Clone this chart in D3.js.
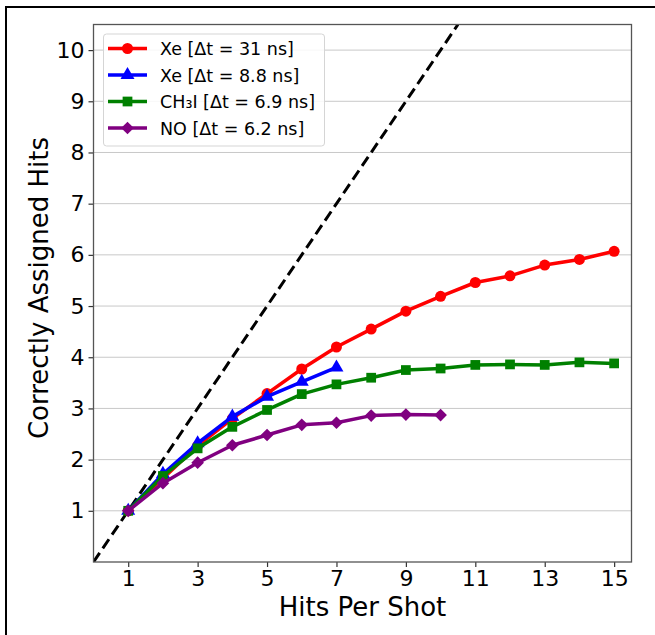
<!DOCTYPE html>
<html><head><meta charset="utf-8">
<script src="https://cdn.jsdelivr.net/npm/d3@7"></script>
<style>body{margin:0;background:#fff;} svg{display:block;font-family:"DejaVu Sans",sans-serif;}</style>
</head><body><svg id="c" width="655" height="635"></svg>
<script>
const hits = [1,2,3,4,5,6,7,8,9,10,11,12,13,14,15];
const xe31 = [1.0,1.63,2.27,2.80,3.29,3.77,4.20,4.55,4.90,5.19,5.46,5.59,5.80,5.91,6.07];
const xe88 = [1.0,1.72,2.32,2.84,3.23,3.52,3.80];
const ch3i = [1.0,1.68,2.22,2.64,2.97,3.28,3.47,3.60,3.75,3.78,3.85,3.86,3.85,3.90,3.88];
const no62 = [1.0,1.54,1.94,2.28,2.48,2.68,2.72,2.86,2.88,2.87];
const seriesNames = ["Xe [\u0394t = 31 ns]","Xe [\u0394t = 8.8 ns]","CH\u2083I [\u0394t = 6.9 ns]","NO [\u0394t = 6.2 ns]"];
const seriesColors = ["#ff0000","#0000ff","#008000","#800080"];
const seriesSymbols = ["circle","triangle","square","diamond"];
const xTicks = [1,3,5,7,9,11,13,15];
const yTicks = [1,2,3,4,5,6,7,8,9,10];
const xDomain = [0,15.5], yDomain = [0,10.5];

const svg = d3.select("#c");
svg.append("rect").attr("x",6).attr("y",7).attr("width",700).attr("height",700).attr("fill","none").attr("stroke","#000").attr("stroke-width",2);

const L=93.5,R=631.5,T=24.5,B=562;
const x = d3.scaleLinear().domain(xDomain).range([L,R]);
const y = d3.scaleLinear().domain(yDomain).range([B,T]);

svg.append("g").selectAll("line").data(yTicks).join("line")
  .attr("x1",L).attr("x2",R).attr("y1",d=>y(d)).attr("y2",d=>y(d))
  .attr("stroke","#c8c8c8").attr("stroke-width",1);

svg.append("defs").append("clipPath").attr("id","clp").append("rect")
  .attr("x",L).attr("y",T).attr("width",R-L).attr("height",B-T);

svg.append("line").attr("clip-path","url(#clp)")
  .attr("x1",x(0)).attr("y1",y(0)).attr("x2",x(10.5)).attr("y2",y(10.5))
  .attr("stroke","#000").attr("stroke-width",3).attr("stroke-dasharray","11,5.5");

const data = [xe31,xe88,ch3i,no62];
const symMap = {circle:d3.symbolCircle,triangle:d3.symbolTriangle,square:d3.symbolSquare,diamond:d3.symbolSquare};
const symSize = {circle:95,triangle:85,square:95,diamond:80};
const symRot = {circle:0,triangle:0,square:0,diamond:45};
const line = d3.line().x((d,i)=>x(hits[i])).y(d=>y(d));
data.forEach((vals,k)=>{
  const s = seriesSymbols[k];
  const g = svg.append("g");
  g.append("path").datum(vals).attr("d",line).attr("fill","none")
    .attr("stroke",seriesColors[k]).attr("stroke-width",3.5).attr("stroke-linejoin","round");
  g.selectAll("path.m").data(vals).join("path").attr("class","m")
    .attr("transform",(d,i)=>`translate(${x(hits[i])},${y(d)}) rotate(${symRot[s]})`)
    .attr("d",d3.symbol().type(symMap[s]).size(symSize[s]))
    .attr("fill",seriesColors[k]);
});

const xa = svg.append("g").attr("transform",`translate(0,${B})`)
  .call(d3.axisBottom(x).tickValues(xTicks).tickSize(5).tickPadding(3));
const ya = svg.append("g").attr("transform",`translate(${L},0)`)
  .call(d3.axisLeft(y).tickValues(yTicks).tickSize(5).tickPadding(4));
[xa,ya].forEach(a=>{
  a.select(".domain").remove();
  a.selectAll(".tick line").attr("stroke","#333").attr("stroke-width",1.2);
  a.selectAll(".tick text").attr("font-size",22).attr("fill","#000").attr("font-family","DejaVu Sans");
});
svg.append("rect").attr("x",L).attr("y",T).attr("width",R-L).attr("height",B-T)
  .attr("fill","none").attr("stroke","#555").attr("stroke-width",1.3);

svg.append("text").attr("x",(L+R)/2).attr("y",616).attr("text-anchor","middle")
  .attr("font-size",26).text("Hits Per Shot");
svg.append("text").attr("transform",`translate(48,288) rotate(-90)`).attr("text-anchor","middle")
  .attr("font-size",26).text("Correctly Assigned Hits");

const lg = svg.append("g");
lg.append("rect").attr("x",103.5).attr("y",34).attr("width",221).attr("height",112).attr("rx",3)
  .attr("fill","#fff").attr("fill-opacity",0.85).attr("stroke","#d5d5d5");
seriesNames.forEach((n,k)=>{
  const s = seriesSymbols[k];
  const cy = 48.5+k*26.5;
  lg.append("line").attr("x1",108).attr("x2",147).attr("y1",cy).attr("y2",cy)
    .attr("stroke",seriesColors[k]).attr("stroke-width",3.5);
  lg.append("path").attr("transform",`translate(127.5,${cy}) rotate(${symRot[s]})`)
    .attr("d",d3.symbol().type(symMap[s]).size(symSize[s]))
    .attr("fill",seriesColors[k]);
  lg.append("text").attr("x",160).attr("y",cy+6.5).attr("font-size",17.5).text(n);
});
</script></body></html>
